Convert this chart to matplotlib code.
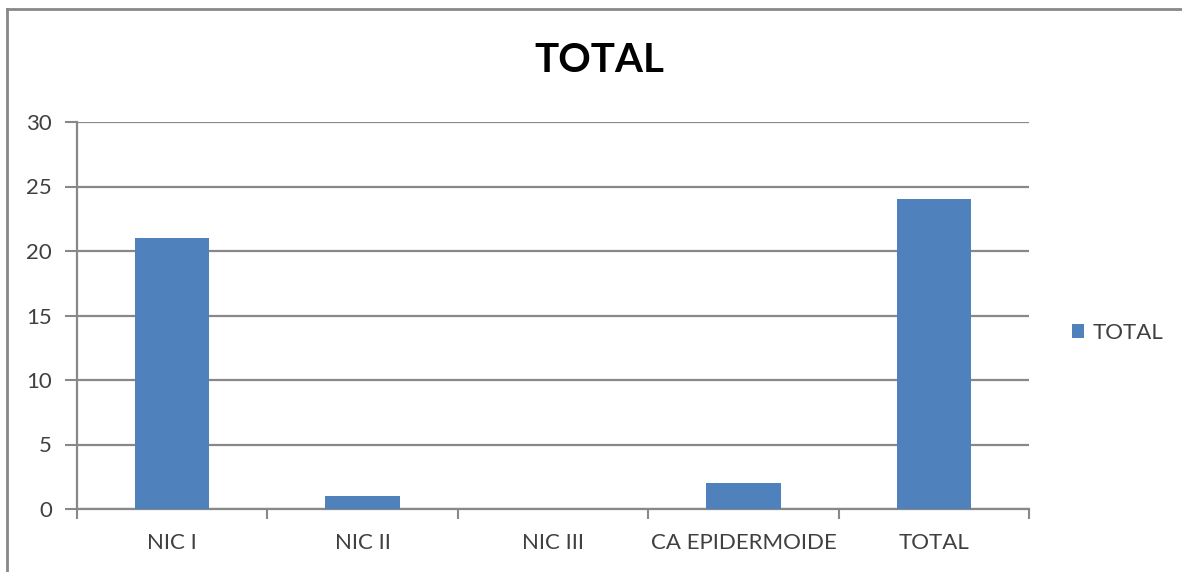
import matplotlib
matplotlib.use("Agg")
import matplotlib.pyplot as plt
from matplotlib.lines import Line2D
import numpy as np

categories = ["NIC I", "NIC II", "NIC III", "CA EPIDERMOIDE", "TOTAL"]
values = [21, 1, 0, 2, 24]
series_name = "TOTAL"
title = "TOTAL"
yticks = [0, 5, 10, 15, 20, 25, 30]

plt.rcParams['font.family'] = ['Lato', 'DejaVu Sans']

fig = plt.figure(figsize=(11.82, 5.72), dpi=100)
fig.patch.set_facecolor('white')
# outer chart frame: only left and top edges visible in reference
fig.lines.append(Line2D([7/1182, 7/1182], [0, 1 - 9/572], transform=fig.transFigure,
                        color='#888888', linewidth=2))
fig.lines.append(Line2D([7/1182, 1], [1 - 9/572, 1 - 9/572], transform=fig.transFigure,
                        color='#888888', linewidth=2))

ax = fig.add_axes([77/1182, 1 - 509/572, 952/1182, 387/572])
x = np.arange(len(categories))
bars = ax.bar(x, values, width=0.39, color='#4F81BD', label=series_name, zorder=3)

ax.set_xlim(-0.5, len(categories) - 0.5)
ax.set_ylim(0, 30)
ax.set_yticks(yticks)
ax.set_yticklabels([str(t) for t in yticks], fontsize=16, color='#404040')
ax.yaxis.grid(True, color='#888888', linewidth=1.6, zorder=0)
ax.set_axisbelow(True)

ax.set_xticks(x)
ax.set_xticklabels(categories, fontsize=16, color='#404040')
ax.tick_params(axis='x', length=0, pad=17)
ax.set_xticks(np.arange(-0.5, len(categories) + 0.5, 1), minor=True)
ax.tick_params(axis='x', which='minor', length=7, width=1.5, color='#888888')
ax.tick_params(axis='y', length=9, width=1.5, color='#888888', pad=9)

for s in ['top', 'right']:
    ax.spines[s].set_visible(False)
for s in ['left', 'bottom']:
    ax.spines[s].set_color('#888888')
    ax.spines[s].set_linewidth(1.6)

fig.text(599/1182, 1 - 60/572, title, fontsize=29, fontweight='bold', ha='center', va='center', color='black')

leg = fig.legend(handles=[bars], labels=[series_name], loc='center left',
                 bbox_to_anchor=(1052/1182, 1 - 333/572), frameon=False, fontsize=16,
                 handlelength=0.55, handleheight=0.55, handletextpad=0.4)
for t in leg.get_texts():
    t.set_color('#404040')

fig.savefig("out.png", dpi=100, facecolor='white')
